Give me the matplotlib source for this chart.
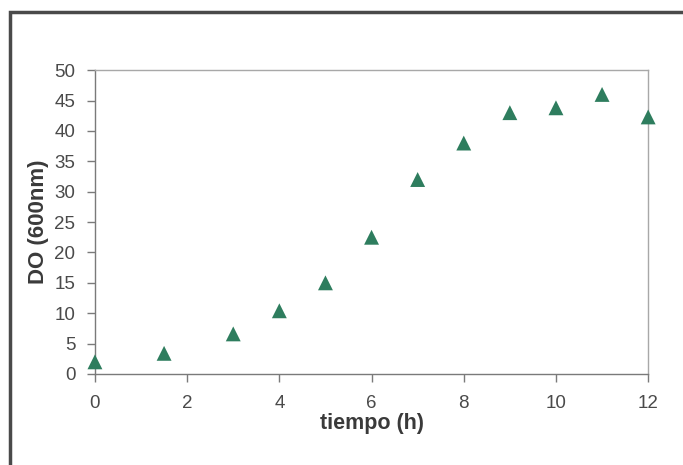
import matplotlib.pyplot as plt
from matplotlib.patches import Rectangle

# Growth curve: optical density at 600 nm over time
tiempo = [0, 1.5, 3, 4, 5, 6, 7, 8, 9, 10, 11, 12]
do_600 = [2.0, 3.4, 6.6, 10.4, 15.0, 22.5, 32.0, 38.0, 43.0, 43.8, 46.0, 42.3]

plt.rcParams['font.family'] = ['Liberation Sans', 'DejaVu Sans']

fig = plt.figure(figsize=(6.83, 4.65), dpi=100)
ax = fig.add_axes([0.139, 0.1957, 0.810, 0.6535])

ax.scatter(tiempo, do_600, marker='^', s=115, color='#2e7d5e', edgecolors='none',
           zorder=3, clip_on=False)

ax.set_xlim(0, 12)
ax.set_ylim(0, 50)
ax.set_xticks(range(0, 13, 2))
ax.set_yticks(range(0, 51, 5))

for side in ['left', 'bottom']:
    ax.spines[side].set_color('#7a7a7a')
    ax.spines[side].set_linewidth(1.0)
for side in ['top', 'right']:
    ax.spines[side].set_color('#a8a8a8')
    ax.spines[side].set_linewidth(1.0)

ax.tick_params(axis='both', direction='out', length=5.5, width=1.0, color='#7a7a7a',
               labelsize=13.5, labelcolor='#4a4a4a')
ax.tick_params(axis='x', pad=9.5)
ax.tick_params(axis='y', pad=8.5)

ax.set_xlabel('tiempo (h)', fontsize=15.5, fontweight='bold', color='#3a3a3a', labelpad=1)
ax.set_ylabel('DO (600nm)', fontsize=16, fontweight='bold', color='#3a3a3a', labelpad=4)

# dark outer frame around the chart
fig.add_artist(Rectangle((10 / 683, -0.1), 1.2, 0.1 + 1 - 12 / 465,
                         transform=fig.transFigure, fill=False,
                         edgecolor='#4a4a4a', linewidth=2.5))

fig.savefig('out.png', dpi=100)
